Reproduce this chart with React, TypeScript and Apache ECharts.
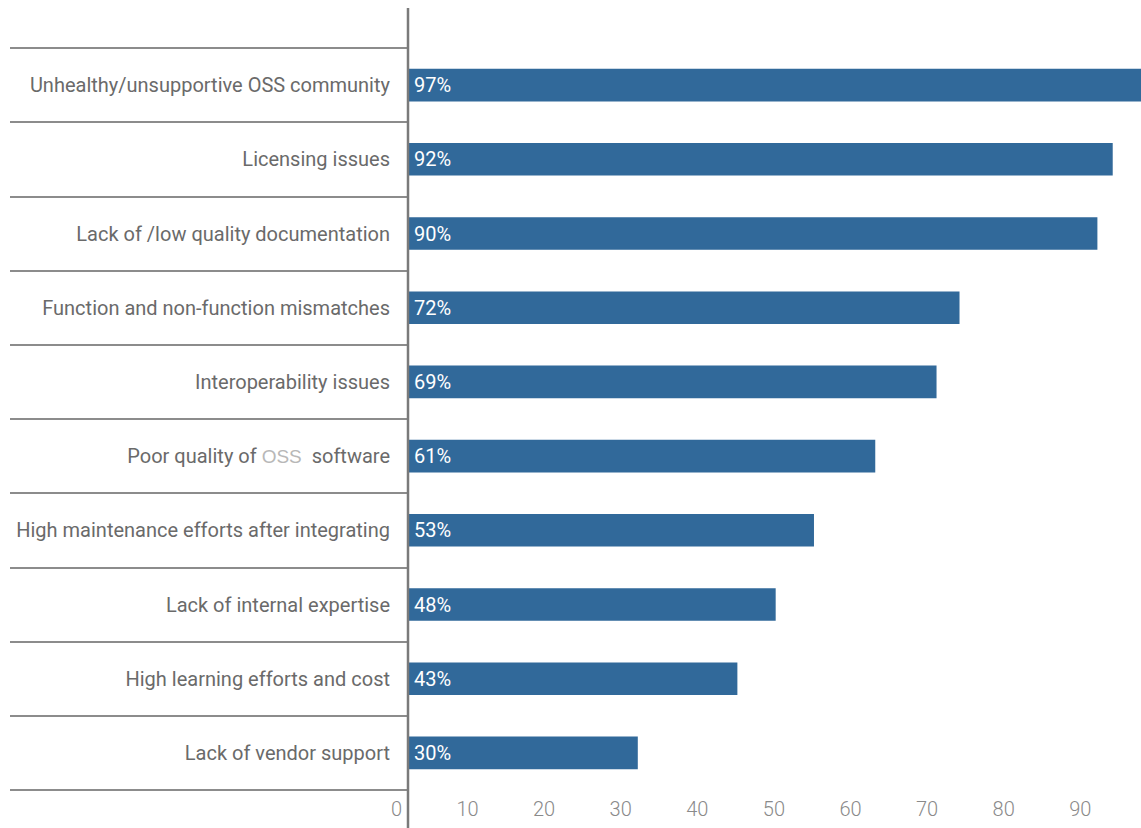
import React, { useEffect, useRef } from 'react';
import * as echarts from 'echarts';

const categories = [
  'Unhealthy/unsupportive OSS community',
  'Licensing issues',
  'Lack of /low quality documentation',
  'Function and non-function mismatches',
  'Interoperability issues',
  'Poor quality of OSS software',
  'High maintenance efforts after integrating',
  'Lack of internal expertise',
  'High learning efforts and cost',
  'Lack of vendor support',
];
const values = [97, 92, 90, 72, 69, 61, 53, 48, 43, 30];
const xMin = 0;
const xMax = 100;
const xInterval = 10;

const FONT = "Roboto, sans-serif";

export default function App() {
  const ref = useRef<HTMLDivElement>(null);
  useEffect(() => {
    const chart = echarts.init(ref.current!, null, { renderer: 'svg' });
    chart.setOption({
      animation: false,
      grid: { left: 408, top: 48, width: 766, height: 742, containLabel: false, outerBoundsMode: 'none' },
      xAxis: {
        type: 'value',
        min: xMin,
        max: xMax,
        interval: xInterval,
        axisLine: { show: false },
        axisTick: { show: false },
        splitLine: { show: false },
        axisLabel: {
          color: '#8a8a8a',
          fontSize: 20,
          fontFamily: FONT,
          fontWeight: 300,
          align: 'right',
          padding: [0, 6, 0, 0],
          margin: 9,
          showMaxLabel: false,
        },
      },
      yAxis: {
        type: 'category',
        inverse: true,
        data: categories,
        axisLine: { show: false },
        axisTick: { show: true, length: 398, lineStyle: { color: '#8c8c8c', width: 2 } },
        axisLabel: {
          color: '#6a6a6a',
          fontSize: 20,
          fontFamily: FONT,
          fontWeight: 400,
          margin: 18,
          formatter: (v: string) => v.replace('OSS software', '{oss|OSS}  software'),
          rich: {
            oss: { color: '#b8b8b8', fontSize: 19, fontFamily: "'Liberation Sans', Arial, sans-serif" },
          },
        },
      },
      series: [
        {
          type: 'bar',
          data: values,
          barWidth: '44%',
          itemStyle: { color: '#31699a' },
          label: {
            show: true,
            position: 'insideLeft',
            distance: 6,
            formatter: '{c}%',
            color: '#fff',
            fontSize: 20,
            fontFamily: FONT,
          },
        },
      ],
      graphic: [
        {
          type: 'line',
          z: 100,
          shape: { x1: 408, y1: 8, x2: 408, y2: 828 },
          style: { stroke: '#7a7a7a', lineWidth: 2.5 },
        },
      ],
    });
    return () => chart.dispose();
  }, []);
  return <div ref={ref} style={{ position: 'absolute', left: 0, top: 0, width: 1141, height: 828 }} />;
}
